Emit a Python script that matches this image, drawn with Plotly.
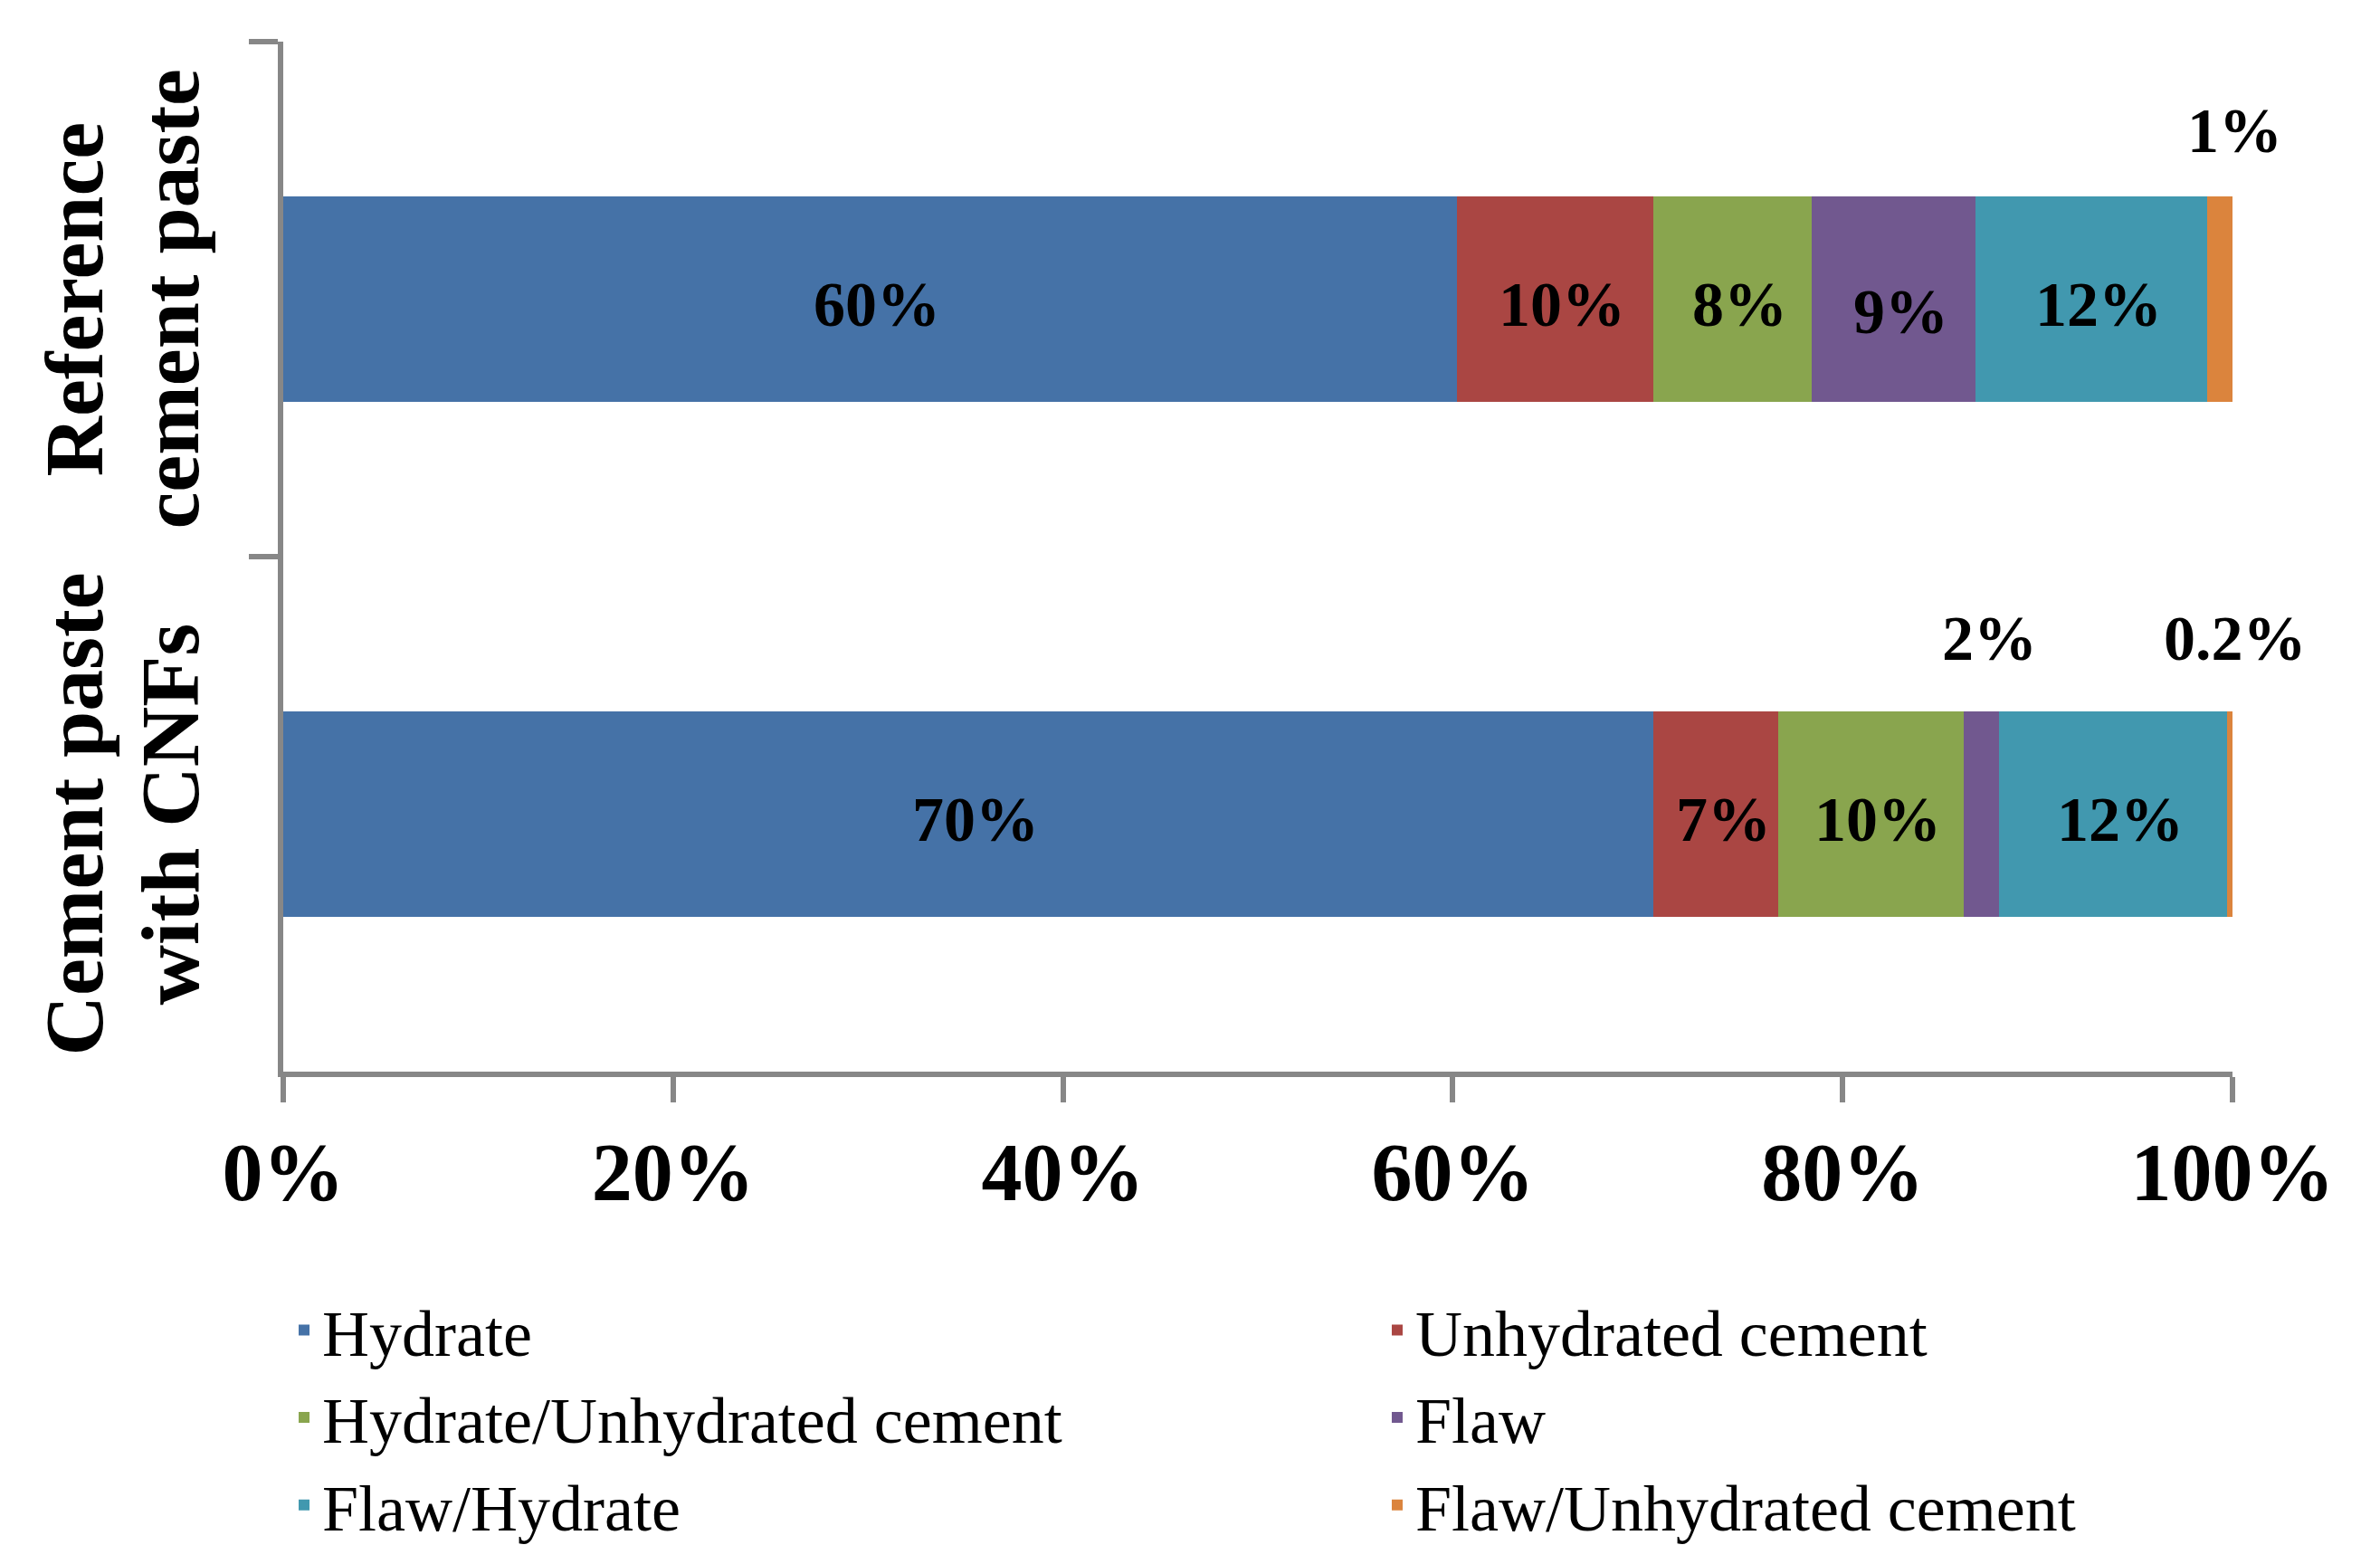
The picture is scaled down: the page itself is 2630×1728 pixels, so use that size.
import plotly.graph_objects as go

# ---------------- data ----------------
categories = ["Reference<br>cement paste", "Cement paste<br>with CNFs"]
series_names = ["Hydrate", "Unhydrated cement", "Hydrate/Unhydrated cement",
                "Flaw", "Flaw/Hydrate", "Flaw/Unhydrated cement"]
colors = ["#4572A7", "#AA4643", "#89A54E", "#71588F", "#4198AF", "#DB843D"]
reference_values = [60.2, 10.1, 8.1, 8.4, 11.9, 1.3]
cnf_values = [70.3, 6.4, 9.5, 1.8, 11.7, 0.3]
reference_labels = ["60%", "10%", "8%", "9%", "12%", "1%"]
cnf_labels = ["70%", "7%", "10%", "2%", "12%", "0.2%"]
reference_label_above = [False, False, False, False, False, True]
cnf_label_above = [False, False, False, True, False, True]
x_tick_values = [0, 20, 40, 60, 80, 100]
x_tick_labels = ["0%", "20%", "40%", "60%", "80%", "100%"]

FONT = "Liberation Serif"
AXIS_GREY = "#878787"

fig = go.Figure()
for i, name in enumerate(series_names):
    fig.add_trace(go.Bar(
        y=categories,
        x=[reference_values[i], cnf_values[i]],
        orientation="h",
        name=name,
        legend="legend" if i % 2 == 0 else "legend2",
        marker=dict(color=colors[i], line=dict(width=0)),
        hoverinfo="skip",
    ))

annotations = []

# data labels: centred in each segment, thin segments get their label above the bar
inside_shift = (8, -6)
special_shifts = {  # (row, series index): (xshift, yshift)
    (0, 3): (8, -14),
    (0, 5): (16, 186),
    (1, 3): (9, 194),
    (1, 5): (6, 194),
}
for row, (vals, labels) in enumerate([
        (reference_values, reference_labels),
        (cnf_values, cnf_labels)]):
    cum = 0
    for i, v in enumerate(vals):
        mid = cum + v / 2
        cum += v
        xs, ys = special_shifts.get((row, i), inside_shift)
        annotations.append(dict(
            x=mid, y=categories[row], xref="x", yref="y",
            text=labels[i], showarrow=False, xshift=xs, yshift=ys,
            font=dict(family=FONT, size=70, color="black", weight="bold"),
        ))

# rotated category labels (one annotation per text line)
line_xshifts = [-232, -126]
for cat in categories:
    for k, line in enumerate(cat.split("<br>")):
        annotations.append(dict(
            x=0, y=cat, xref="paper", yref="y",
            text=line, showarrow=False, textangle=-90,
            xanchor="center", yanchor="middle", xshift=line_xshifts[k],
            font=dict(family=FONT, size=92, color="black", weight="bold"),
        ))

legend_common = dict(
    orientation="v",
    traceorder="normal",
    yanchor="top",
    y=-0.204,
    xanchor="left",
    font=dict(family=FONT, size=72, color="black"),
    bgcolor="rgba(0,0,0,0)",
    itemclick=False, itemdoubleclick=False,
)

fig.update_layout(
    width=2614, height=1712,
    margin=dict(l=305, r=155, t=38, b=536, pad=0, autoexpand=False),
    barmode="stack",
    bargap=0.6,
    plot_bgcolor="white",
    paper_bgcolor="white",
    font=dict(family=FONT, color="black"),
    annotations=annotations,
    showlegend=True,
    legend=dict(x=0.0014, **legend_common),
    legend2=dict(x=0.5622, **legend_common),
    xaxis=dict(
        range=[0, 100],
        tickmode="array", tickvals=x_tick_values, ticktext=x_tick_labels,
        showgrid=False, zeroline=False,
        showline=True, linecolor=AXIS_GREY, linewidth=6,
        ticks="outside", ticklen=28, tickwidth=6, tickcolor=AXIS_GREY,
        tickfont=dict(family=FONT, size=90, color="black", weight="bold"),
        fixedrange=True,
    ),
    yaxis=dict(
        autorange="reversed",
        showgrid=False, zeroline=False,
        showline=True, linecolor=AXIS_GREY, linewidth=6,
        ticks="outside", tickson="boundaries", ticklen=32, tickwidth=6,
        tickcolor=AXIS_GREY,
        showticklabels=False,
        fixedrange=True,
    ),
)

fig.write_html("out.html")
